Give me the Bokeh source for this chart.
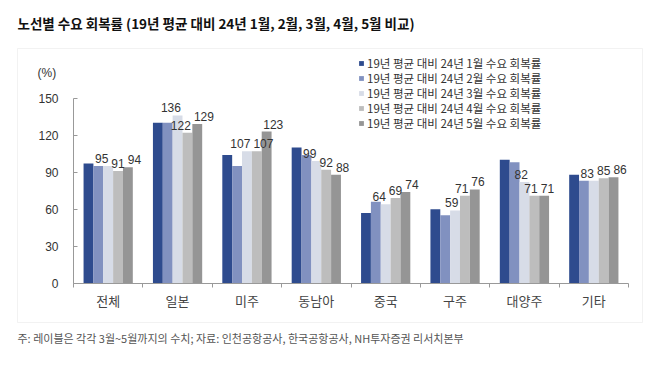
from bokeh.plotting import figure
from bokeh.models import Range1d, FixedTicker, Legend, LegendItem, Label, BoxAnnotation
from bokeh.core.properties import value
from bokeh.embed import file_html
from bokeh.resources import INLINE

categories = ["전체", "일본", "미주", "동남아", "중국", "구주", "대양주", "기타"]
series_names = [
    "19년 평균 대비 24년 1월 수요 회복률",
    "19년 평균 대비 24년 2월 수요 회복률",
    "19년 평균 대비 24년 3월 수요 회복률",
    "19년 평균 대비 24년 4월 수요 회복률",
    "19년 평균 대비 24년 5월 수요 회복률",
]
jan = [97, 130, 104, 110, 57, 60, 100, 88]
feb = [95, 130, 95, 104, 66, 55, 98, 83]
mar = [95, 136, 107, 99, 64, 59, 82, 83]
apr = [91, 122, 107, 92, 69, 71, 71, 85]
may = [94, 129, 123, 88, 74, 76, 71, 86]
series = [jan, feb, mar, apr, may]
labeled = [False, False, True, True, True]
colors = ["#2E4B8E", "#8191C0", "#D7DCE7", "#BDBDBD", "#959595"]
y_ticks = [0, 30, 60, 90, 120, 150]
y_max = 150

title_text = "노선별 수요 회복률 (19년 평균 대비 24년 1월, 2월, 3월, 4월, 5월 비교)"
note_text = "주: 레이블은 각각 3월~5월까지의 수치; 자료: 인천공항공사, 한국공항공사, NH투자증권 리서치본부"
unit_text = "(%)"

# ---- layout (pixels on the canvas) ----
W, H = 646, 368
n = len(categories)
axis_left_px, axis_right_px = 73, 628      # x = 0 .. n
axis_top_px, axis_bottom_px = 97.7, 282.7  # y = y_max .. 0
px_x = (axis_right_px - axis_left_px) / n
px_y = (axis_bottom_px - axis_top_px) / y_max
x_lo = -axis_left_px / px_x
x_hi = x_lo + W / px_x
y_hi = axis_bottom_px / px_y
y_lo = y_hi - H / px_y


def dx(px):
    return x_lo + px / px_x


def dy(py):
    return y_hi - py / px_y


p = figure(width=W, height=H, x_range=Range1d(x_lo, x_hi), y_range=Range1d(y_lo, y_hi),
           output_backend="svg", toolbar_location=None, title_location=None,
           min_border=0, min_border_left=0, min_border_right=0, min_border_top=0, min_border_bottom=0)
p.xgrid.visible = False
p.ygrid.visible = False
p.outline_line_color = None
p.background_fill_color = "white"
p.border_fill_color = "white"

num_font = value("Liberation Sans")
kr_font = "Noto Sans CJK KR"

# outer grey box
p.add_layout(BoxAnnotation(left=dx(17), right=dx(642), top=dy(48), bottom=dy(322),
                           fill_color=None, fill_alpha=0, line_color="#D4D4D4", line_width=1,
                           level="underlay"))

digit_w = 6.7
label_h = 12

bw = 0.142
centers = [i + 0.5 for i in range(n)]
renderers = []
for j, vals in enumerate(series):
    xs = [c + (j - 2) * bw for c in centers]
    r = p.vbar(x=xs, top=vals, bottom=0, width=bw, fill_color=colors[j], line_color=None)
    renderers.append(r)

# value labels (Mar-May); nudge neighbours apart horizontally when they would collide
lab_idx = [j for j in range(len(series)) if labeled[j]]
offsets = {j: [0.0] * n for j in lab_idx}
for i in range(n):
    pos = [(j - 2) * bw * px_x for j in lab_idx]
    shift = [0.0] * len(lab_idx)
    for k in range(1, len(lab_idx)):
        a, b = lab_idx[k - 1], lab_idx[k]
        va, vb = series[a][i], series[b][i]
        if abs(va - vb) * px_y < label_h:
            wa = digit_w * len(str(va))
            wb = digit_w * len(str(vb))
            dist = (pos[k] + shift[k - 1]) - (pos[k - 1] + shift[k - 1])
            need = (wa + wb) / 2 + 3 - dist
            shift[k] = shift[k - 1] + max(need, 0)
        else:
            shift[k] = shift[k - 1]
    mid = max(shift) / 2
    for k, j in enumerate(lab_idx):
        offsets[j][i] = shift[k] - mid

for j in lab_idx:
    vals = series[j]
    xs = [c + (j - 2) * bw for c in centers]
    p.text(x=xs, y=vals, text=[str(v) for v in vals], x_offset=offsets[j],
           text_align="center", text_baseline="bottom",
           y_offset=-3, text_font=num_font, text_font_size="12px", text_color="#333333")

# x axis at y = 0
p.xaxis.fixed_location = 0
p.xaxis.bounds = (0, n)
p.xaxis.ticker = FixedTicker(ticks=centers, minor_ticks=list(range(n + 1)))
p.xaxis.major_label_overrides = {c: name for c, name in zip(centers, categories)}
p.xaxis.major_tick_out = 0
p.xaxis.major_tick_in = 0
p.xaxis.minor_tick_out = 4
p.xaxis.minor_tick_in = 0
p.xaxis.major_label_standoff = 4
p.xaxis.major_label_text_font = kr_font
p.xaxis.major_label_text_font_size = "13px"
p.xaxis.major_label_text_color = "#444444"

# y axis at x = 0
p.yaxis.fixed_location = 0
p.yaxis.bounds = (0, y_max)
p.yaxis.ticker = FixedTicker(ticks=y_ticks)
p.yaxis.major_tick_in = 4
p.yaxis.major_tick_out = 0
p.yaxis.minor_tick_out = 0
p.yaxis.minor_tick_in = 0
p.yaxis.major_label_standoff = 15
p.yaxis.major_label_text_font = "Liberation Sans"
p.yaxis.major_label_text_font_size = "12px"
p.yaxis.major_label_text_color = "#333333"

for ax in (p.xaxis, p.yaxis):
    ax.axis_line_color = "#999999"
    ax.major_tick_line_color = "#999999"
    ax.minor_tick_line_color = "#999999"

# legend: one single-item legend per row, rows 15px apart
leg_font_px = 11.5
row_gap = 15
first_row_center = 63
item_half = 8
for j, r in enumerate(renderers):
    row_bottom = first_row_center + j * row_gap + item_half
    lg = Legend(items=[LegendItem(label=series_names[j], renderers=[r])],
                location=(358, H - row_bottom),
                padding=0, margin=0, spacing=0, glyph_width=6, glyph_height=6,
                label_standoff=3, label_height=10,
                label_text_font=kr_font, label_text_font_size=f"{leg_font_px}px",
                label_text_color="#333333",
                border_line_color=None, background_fill_alpha=0)
    p.add_layout(lg)

p.add_layout(Label(x=dx(17), y=dy(22), text=title_text,
                   text_font=kr_font, text_font_size="13.5px", text_font_style="bold",
                   text_color="#111111", text_baseline="middle", text_align="left"))
p.add_layout(Label(x=dx(37), y=dy(72), text=unit_text,
                   text_font="Liberation Sans", text_font_size="12px",
                   text_color="#333333", text_baseline="middle", text_align="left"))
p.add_layout(Label(x=dx(17), y=dy(337), text=note_text,
                   text_font=kr_font, text_font_size="11px",
                   text_color="#555555", text_baseline="middle", text_align="left"))

open("out.html", "w").write(file_html(p, INLINE))
